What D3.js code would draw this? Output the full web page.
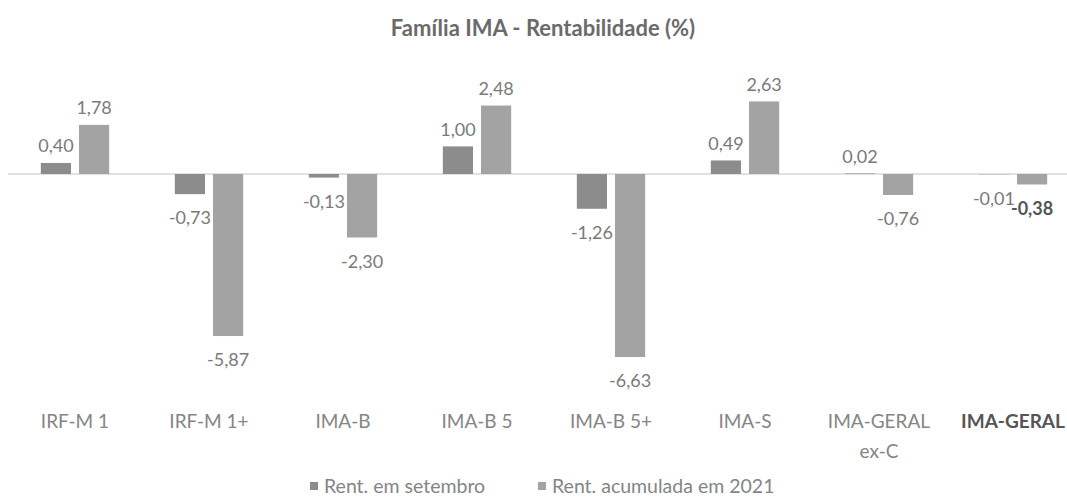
<!DOCTYPE html>
<html>
<head>
<meta charset="utf-8">
<script src="https://cdn.jsdelivr.net/npm/d3@7"></script>
<style>
  body { margin: 0; background: #fff; }
  svg { font-family: Lato, "Open Sans", sans-serif; }
</style>
</head>
<body>
<svg width="1067" height="501"></svg>
<script>
var categories = ['IRF-M 1', 'IRF-M 1+', 'IMA-B', 'IMA-B 5', 'IMA-B 5+', 'IMA-S', 'IMA-GERAL ex-C', 'IMA-GERAL']
var seriesNames = ['Rent. em setembro', 'Rent. acumulada em 2021']
var setembro = [0.40, -0.73, -0.13, 1.00, -1.26, 0.49, 0.02, -0.01]
var acumulada = [1.78, -5.87, -2.30, 2.48, -6.63, 2.63, -0.76, -0.38]
var colors = ['#8c8c8c', '#a3a3a3']

var rows = categories.map(function(c, i){
    return {cat: c, values: [setembro[i], acumulada[i]]}
})

var svg = d3.select('svg')
var fmt = d3.formatLocale({decimal: ',', thousands: '.', grouping: [3], currency: ['', ''], minus: '-'}).format('.2f')

var x0 = d3.scaleBand()
    .domain(categories)
    .range([8, 1080])
    .paddingInner(0.49)
    .paddingOuter(0.245)

var x1 = d3.scaleBand()
    .domain([0, 1])
    .range([0, x0.bandwidth()])
    .paddingInner(0.21)

var y = d3.scaleLinear()
    .domain([-7, 3])
    .range([174 + 7 * 27.6, 174 - 3 * 27.6])

// title
svg.append('text')
    .attr('x', 543)
    .attr('y', 28)
    .attr('dy', '0.35em')
    .attr('text-anchor', 'middle')
    .style('font-size', '22px')
    .style('font-weight', 'bold')
    .style('fill', '#6a6a6a')
    .text('Família IMA - Rentabilidade (%)')

// zero line
svg.append('line')
    .attr('x1', 8)
    .attr('x2', 1067)
    .attr('y1', y(0))
    .attr('y2', y(0))
    .style('stroke', '#c4c4c4')
    .style('stroke-width', 1)

var groups = svg.selectAll('g.grp')
    .data(rows)
    .enter()
    .append('g')
    .attr('class', 'grp')
    .attr('transform', function(d){ return 'translate(' + x0(d.cat) + ',0)' })

groups.selectAll('rect')
    .data(function(d){ return d.values })
    .enter()
    .append('rect')
    .attr('x', function(d, i){ return x1(i) })
    .attr('width', x1.bandwidth())
    .attr('y', function(d){ return y(Math.max(0, d)) })
    .attr('height', function(d){ return Math.abs(y(d) - y(0)) })
    .attr('fill', function(d, i){ return colors[i] })

/* data labels: above positive bars, below negative ones */
groups.selectAll('text.lbl')
    .data(function(d, gi){ return d.values.map(function(v){ return {v: v, last: gi === categories.length - 1} }) })
    .enter()
    .append('text')
    .attr('class', 'lbl')
    .attr('x', function(d, i){ return x1(i) + x1.bandwidth() / 2 })
    .attr('y', function(d){ return d.v >= 0 ? y(d.v) - 17 : y(d.v) + 24 })
    .attr('dy', '0.35em')
    .attr('text-anchor', 'middle')
    .style('font-size', '18px')
    .style('fill', function(d, i){ return d.last && i === 1 ? '#555' : '#7a7a7a' })
    .style('font-weight', function(d, i){ return d.last && i === 1 ? 'bold' : 'normal' })
    .text(function(d){ return fmt(d.v) })

// category labels
svg.selectAll('text.cat')
    .data(categories)
    .enter()
    .append('text')
    .attr('class', 'cat')
    .attr('x', function(d){ return x0(d) + x0.bandwidth() / 2 })
    .attr('y', 421)
    .attr('text-anchor', 'middle')
    .style('font-size', '19px')
    .style('fill', function(d, i){ return i === categories.length - 1 ? '#555' : '#858585' })
    .style('font-weight', function(d, i){ return i === categories.length - 1 ? 'bold' : 'normal' })
    .each(function(d){
        var parts = d === 'IMA-GERAL ex-C' ? ['IMA-GERAL', 'ex-C'] : [d]
        var t = d3.select(this)
        parts.forEach(function(p, k){
            t.append('tspan')
                .attr('x', x0(d) + x0.bandwidth() / 2)
                .attr('dy', k === 0 ? '0.35em' : 30)
                .text(p)
        })
    })

// legend
var legendX = [310, 538]
var leg = svg.selectAll('g.leg')
    .data(seriesNames)
    .enter()
    .append('g')
    .attr('class', 'leg')
    .attr('transform', function(d, i){ return 'translate(' + legendX[i] + ',486)' })

leg.append('rect')
    .attr('x', 0)
    .attr('y', -4)
    .attr('width', 8)
    .attr('height', 8)
    .attr('fill', function(d, i){ return colors[i] })

leg.append('text')
    .attr('x', 14)
    .attr('y', 0)
    .attr('dy', '0.35em')
    .style('font-size', '19.5px')
    .style('fill', '#858585')
    .text(function(d){ return d })
</script>
</body>
</html>
